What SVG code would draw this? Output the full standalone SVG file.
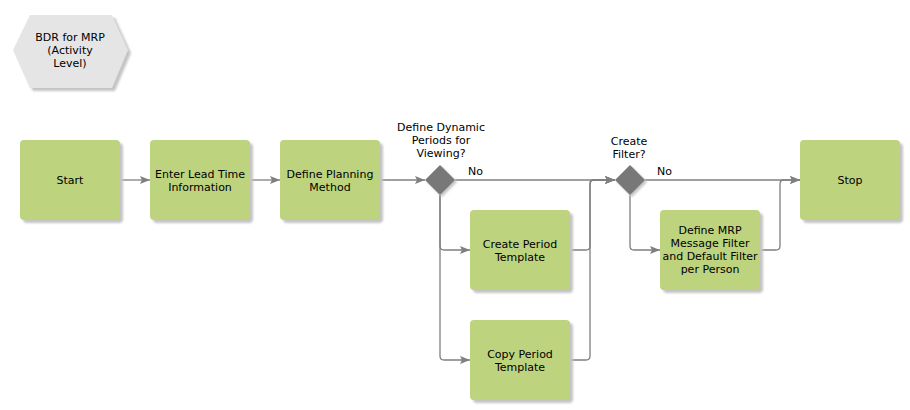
<svg xmlns="http://www.w3.org/2000/svg" width="910" height="410" viewBox="0 0 910 410">
<style>
.box{fill:#bdd37e;}
.shd{fill:#c4c4c4;filter:url(#blur);}
.dia{fill:#787878;}
.t{font-family:"DejaVu Sans",Verdana,sans-serif;font-size:11px;fill:#000;text-anchor:middle;}
.tl{font-family:"DejaVu Sans",Verdana,sans-serif;font-size:11px;fill:#000;}
.c{fill:none;stroke:#7f7f7f;stroke-width:1.3;}
</style>
<defs>
<filter id="blur" x="-10%" y="-10%" width="130%" height="130%"><feGaussianBlur stdDeviation="1.2"/></filter>
<marker id="arr" markerWidth="11" markerHeight="8" refX="10" refY="4" orient="auto" markerUnits="userSpaceOnUse">
<path d="M0,0 L10,4 L0,8 L2,4 Z" fill="#7f7f7f"/>
</marker>
</defs>
<rect width="910" height="410" fill="#fff"/>

<g id="title">
<polygon points="16,53 33,18 115,18 131,53 115,91 33,91" class="shd"/>
<polygon points="13,50 30,15 112,15 128,50 112,88 30,88" fill="#e5e5e5"/>
<text class="t" x="70" y="41">BDR for MRP</text>
<text class="t" x="70" y="54">(Activity</text>
<text class="t" x="70" y="67">Level)</text>
</g>

<g id="connectors">
<path class="c" d="M120,180 L150,180" marker-end="url(#arr)"/>
<path class="c" d="M250,180 L280,180" marker-end="url(#arr)"/>
<path class="c" d="M380,180 L425,180" marker-end="url(#arr)"/>
<path class="c" d="M455,180 L615,180" marker-end="url(#arr)"/>
<path class="c" d="M440,195 L440,246 Q440,250 444,250 L470,250" marker-end="url(#arr)"/>
<path class="c" d="M440,195 L440,356 Q440,360 444,360 L470,360" marker-end="url(#arr)"/>
<path class="c" d="M570,250 L586,250 Q590,250 590,246 L590,184 Q590,180 594,180 L615,180" marker-end="url(#arr)"/>
<path class="c" d="M570,360 L586,360 Q590,360 590,356 L590,184 Q590,180 594,180 L615,180" marker-end="url(#arr)"/>
<path class="c" d="M645,180 L800,180" marker-end="url(#arr)"/>
<path class="c" d="M630,195 L630,246 Q630,250 634,250 L660,250" marker-end="url(#arr)"/>
<path class="c" d="M760,250 L776,250 Q780,250 780,246 L780,184 Q780,180 784,180 L800,180" marker-end="url(#arr)"/>
<text class="tl" x="468" y="175">No</text>
<text class="tl" x="657" y="175">No</text>
</g>

<g id="start">
<rect x="23" y="143" width="100" height="80" rx="4" class="shd"/>
<rect x="20" y="140" width="100" height="80" rx="4" class="box"/>
<text class="t" x="70" y="184">Start</text>
</g>

<g id="enter-lead-time">
<rect x="153" y="143" width="100" height="80" rx="4" class="shd"/>
<rect x="150" y="140" width="100" height="80" rx="4" class="box"/>
<text class="t" x="200" y="178">Enter Lead Time</text>
<text class="t" x="200" y="191">Information</text>
</g>

<g id="define-planning">
<rect x="283" y="143" width="100" height="80" rx="4" class="shd"/>
<rect x="280" y="140" width="100" height="80" rx="4" class="box"/>
<text class="t" x="330" y="178">Define Planning</text>
<text class="t" x="330" y="191">Method</text>
</g>

<g id="decision-periods">
<polygon points="442,167 457,182 442,197 427,182" class="shd"/>
<polygon points="440,165 455,180 440,195 425,180" class="dia"/>
<text class="t" x="441" y="131">Define Dynamic</text>
<text class="t" x="441" y="144">Periods for</text>
<text class="t" x="441" y="157">Viewing?</text>
</g>

<g id="create-period">
<rect x="473" y="213" width="100" height="80" rx="4" class="shd"/>
<rect x="470" y="210" width="100" height="80" rx="4" class="box"/>
<text class="t" x="520" y="248">Create Period</text>
<text class="t" x="520" y="261">Template</text>
</g>

<g id="copy-period">
<rect x="473" y="323" width="100" height="80" rx="4" class="shd"/>
<rect x="470" y="320" width="100" height="80" rx="4" class="box"/>
<text class="t" x="520" y="358">Copy Period</text>
<text class="t" x="520" y="371">Template</text>
</g>

<g id="decision-filter">
<polygon points="632,167 647,182 632,197 617,182" class="shd"/>
<polygon points="630,165 645,180 630,195 615,180" class="dia"/>
<text class="t" x="629" y="145">Create</text>
<text class="t" x="629" y="158">Filter?</text>
</g>

<g id="define-mrp-filter">
<rect x="663" y="213" width="100" height="80" rx="4" class="shd"/>
<rect x="660" y="210" width="100" height="80" rx="4" class="box"/>
<text class="t" x="710" y="234">Define MRP</text>
<text class="t" x="710" y="247">Message Filter</text>
<text class="t" x="710" y="260">and Default Filter</text>
<text class="t" x="710" y="273">per Person</text>
</g>

<g id="stop">
<rect x="803" y="143" width="100" height="80" rx="4" class="shd"/>
<rect x="800" y="140" width="100" height="80" rx="4" class="box"/>
<text class="t" x="850" y="184">Stop</text>
</g>
</svg>
